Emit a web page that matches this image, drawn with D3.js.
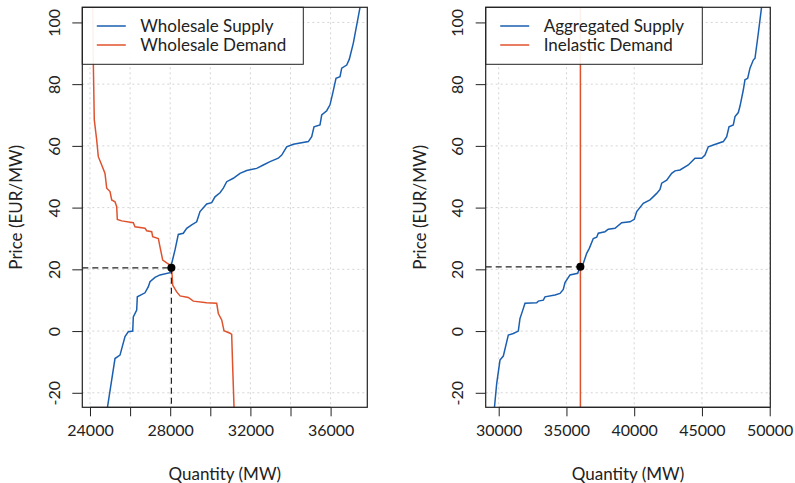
<!DOCTYPE html>
<html><head><meta charset="utf-8">
<script src="https://cdn.jsdelivr.net/npm/d3@7/dist/d3.min.js"></script>
<style>
body{margin:0;background:#fff}
text{font-family:Lato, "Open Sans", sans-serif; fill:#222}
</style>
</head><body>
<svg id="c" width="795" height="483"></svg>
<script>
// ---------- DATA ----------
const supplyLeftQ = [24840,25247,25496,25746,25912,26130,26160,26329,26360,26743,26910,26992,27242,27491,27990,28074,28240,28404,28653,28823,29072,29321,29486,29820,30070,30234,30484,30650,30818,31147,31481,31815,32314,32643,32978,33391,33561,33810,34140,34888,35057,35172,35471,35556,35806,35970,36104,36269,36469,36554,36803,36934,37133,37500];
const supplyLeftP = [-26,-8.9,-7.8,-1.8,-0.2,0,4.6,6.8,11.1,12.4,14.4,16,17.4,18.2,18.9,21.9,26.3,31.3,31.7,33.3,34.4,35.4,38.7,41.2,41.6,43.5,44.8,46.3,48.4,49.5,51.1,52,52.7,53.8,54.9,56,57,59.7,60.5,61.4,63,66.2,66.8,70,71.4,73.3,77,81.9,82.4,85.2,86.2,88.1,93.3,106];

const demandLeftQ = [24134,24166,24214,24334,24414,24583,24748,24833,24998,25082,25247,25332,25362,25581,26160,26244,26743,26828,27077,27127,27409,27491,27626,27825,27990,28074,28124,28324,28489,28903,29153,29820,30319,30400,30569,30683,30983,31066,31116,31190];
const demandLeftP = [106,86.8,68.4,61.9,56.5,53.8,51.1,46.3,45.2,42.5,41.9,40.3,36.2,35.7,35.1,33.8,33.3,32.5,32.2,30.6,30,27.3,23,22.1,21.4,20.3,14.9,12.7,11.4,10.9,9.7,9.2,9,5.7,3.6,0.1,-0.7,-1.1,-11.6,-26];

const supplyRightQ = [29660,29852,30096,30340,30709,31078,31447,31572,31742,31941,32804,32923,33292,33417,34155,34524,34767,34893,35262,35830,36000,36244,36494,36686,36981,37232,37350,37845,38088,38583,39077,39690,40008,40185,40671,41166,41660,41904,42029,42399,42767,43011,43380,43993,44487,44981,45225,45468,45837,46575,46826,46996,47314,47440,47683,47809,48051,48175,48376,48545,48789,48915,49159,49430];
const supplyRightP = [-26,-17,-9.4,-8.1,-1.3,-0.8,0,4.1,6.3,9,9.2,9.7,10,11.1,11.7,12.2,13.5,15.7,18.2,18.7,20.8,21.9,25.2,26.8,30,30.4,31.7,32.2,33,33.3,35.1,35.4,36.2,38.7,41.4,42.5,44.6,45.9,47.9,48.9,51.1,51.9,52.2,53.8,56,56,57,59.7,60.3,61.4,63,66.2,66.8,69.5,70.8,72.9,78.1,81.4,81.9,85.2,87.8,88.4,96.5,106];

const inelasticDemandQ = 36030;
const equilibriumLeft = [28060, 20.5];
const equilibriumRight = [36030, 20.8];

const yTicks = [-20, 0, 20, 40, 60, 80, 100];
const yLabels = ["-20", "0", "20", "40", "60", "80", "100"];
const leftXTicks = [24000, 26000, 28000, 30000, 32000, 34000, 36000];
const leftXLabels = ["24000", "", "28000", "", "32000", "", "36000"];
const rightXTicks = [30000, 35000, 40000, 45000, 50000];
const rightXLabels = ["30000", "35000", "40000", "45000", "50000"];
const leftLegend = ["Wholesale Supply", "Wholesale Demand"];
const rightLegend = ["Aggregated Supply", "Inelastic Demand"];

// ---------- DRAW ----------
const BLUE = "#1a5fb0", RED = "#e0522d";
const svg = d3.select("#c");
const yTop = 7.3, yBot = 407.3;
const y = d3.scaleLinear().domain([-24.7, 104.9]).range([yBot, yTop]);

function panel(id, x0, x1, xDomain, xTicks, xLabels, legend, draw) {
  const x = d3.scaleLinear().domain(xDomain).range([x0, x1]);
  const g = svg.append("g");
  g.append("clipPath").attr("id", id).append("rect")
    .attr("x", x0).attr("y", yTop).attr("width", x1 - x0).attr("height", yBot - yTop);
  // grid
  const grid = g.append("g").attr("stroke", "#d4d4d4").attr("stroke-dasharray", "2,3").attr("stroke-width", 1);
  xTicks.forEach(t => grid.append("line").attr("x1", x(t)).attr("x2", x(t)).attr("y1", yTop).attr("y2", yBot));
  yTicks.forEach(t => grid.append("line").attr("x1", x0).attr("x2", x1).attr("y1", y(t)).attr("y2", y(t)));
  const plot = g.append("g").attr("clip-path", `url(#${id})`);
  draw(plot, x);
  // legend
  const lg = g.append("g");
  lg.append("rect").attr("x", x0).attr("y", yTop).attr("width", legend.w).attr("height", 57)
    .attr("fill", "#fff").attr("fill-opacity", 0.92).attr("stroke", "#222").attr("stroke-width", 1);
  legend.labels.forEach((lab, i) => {
    const yy = 26 + i * 19;
    lg.append("line").attr("x1", x0 + 14.5).attr("x2", x0 + 43.5).attr("y1", yy).attr("y2", yy)
      .attr("stroke", i === 0 ? BLUE : RED).attr("stroke-width", 1.5);
    lg.append("text").attr("x", x0 + 58).attr("y", yy).attr("dy", "0.36em")
      .attr("font-size", "17px").text(lab);
  });
  // box
  g.append("rect").attr("x", x0).attr("y", yTop).attr("width", x1 - x0).attr("height", yBot - yTop)
    .attr("fill", "none").attr("stroke", "#222").attr("stroke-width", 1.2);
  // x axis
  const xa = g.append("g").attr("transform", `translate(0,${yBot})`)
    .call(d3.axisBottom(x).tickValues(xTicks).tickFormat((d, i) => xLabels[i]).tickSize(9).tickPadding(8));
  xa.select(".domain").attr("d", `M${x(xTicks[0])},0H${x(xTicks[xTicks.length-1])}`).attr("stroke", "#222");
  xa.selectAll(".tick line").attr("stroke", "#222");
  xa.selectAll("text").attr("font-size", "16px").attr("font-family", "Lato, sans-serif").attr("fill", "#222");
  // y axis
  const ya = g.append("g").attr("transform", `translate(${x0},0)`)
    .call(d3.axisLeft(y).tickValues(yTicks).tickSize(10).tickFormat((d, i) => yLabels[i]));
  ya.select(".domain").remove();
  ya.selectAll(".tick line").attr("stroke", "#222");
  ya.selectAll("text").attr("font-size", "16px").attr("font-family", "Lato, sans-serif").attr("fill", "#222")
    .attr("x", null).attr("text-anchor", "middle")
    .attr("transform", "translate(-28,0) rotate(-90)").attr("dy", "0.36em");
  // titles
  g.append("text").attr("x", (x0 + x1) / 2).attr("y", 480).attr("text-anchor", "middle")
    .attr("font-size", "17px").text("Quantity (MW)");
  g.append("text").attr("transform", `translate(${x0 - 66},${(yTop + yBot) / 2}) rotate(-90)`)
    .attr("dy", "0.36em").attr("text-anchor", "middle").attr("font-size", "17px").text("Price (EUR/MW)");
  return x;
}

const line = (x) => d3.line().x(d => x(d[0])).y(d => y(d[1]));
const zip = (a, b) => a.map((v, i) => [v, b[i]]);

panel("clipL", 82.3, 367.3, [23616, 37830], leftXTicks, leftXLabels,
  {w: 221, labels: leftLegend}, (p, x) => {
    p.append("path").attr("d", line(x)(zip(demandLeftQ, demandLeftP))).attr("fill", "none")
      .attr("stroke", RED).attr("stroke-width", 1.5);
    p.append("path").attr("d", line(x)(zip(supplyLeftQ, supplyLeftP))).attr("fill", "none")
      .attr("stroke", BLUE).attr("stroke-width", 1.5);
    const [eq, ep] = equilibriumLeft;
    p.append("line").attr("x1", x.range()[0]).attr("x2", x(eq)).attr("y1", y(ep)).attr("y2", y(ep))
      .attr("stroke", "#222").attr("stroke-dasharray", "6,4").attr("stroke-width", 1.2);
    p.append("line").attr("x1", x(eq)).attr("x2", x(eq)).attr("y1", y(ep)).attr("y2", yBot)
      .attr("stroke", "#222").attr("stroke-dasharray", "6,4").attr("stroke-width", 1.2);
    p.append("circle").attr("cx", x(eq)).attr("cy", y(ep)).attr("r", 4).attr("fill", "#000");
  });

panel("clipR", 485.7, 770.3, [29041, 50044], rightXTicks, rightXLabels,
  {w: 216.6, labels: rightLegend}, (p, x) => {
    p.append("path").attr("d", line(x)(zip(supplyRightQ, supplyRightP))).attr("fill", "none")
      .attr("stroke", BLUE).attr("stroke-width", 1.5);
    p.append("line").attr("x1", x(inelasticDemandQ)).attr("x2", x(inelasticDemandQ))
      .attr("y1", yTop).attr("y2", yBot).attr("stroke", RED).attr("stroke-width", 1.5);
    const [eq, ep] = equilibriumRight;
    p.append("line").attr("x1", x.range()[0]).attr("x2", x(eq)).attr("y1", y(ep)).attr("y2", y(ep))
      .attr("stroke", "#222").attr("stroke-dasharray", "6,4").attr("stroke-width", 1.2);
    p.append("circle").attr("cx", x(eq)).attr("cy", y(ep)).attr("r", 4).attr("fill", "#000");
  });
</script>
</body></html>
